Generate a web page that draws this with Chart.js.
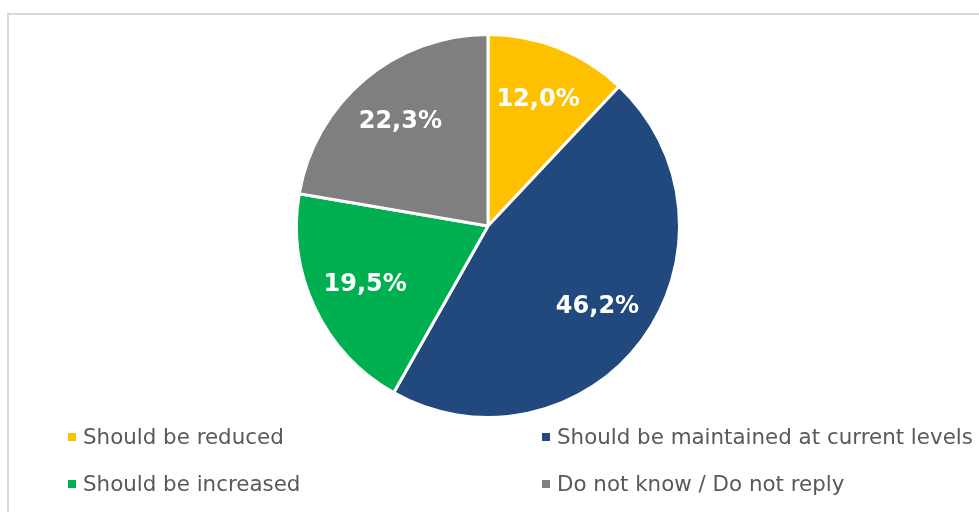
<!DOCTYPE html>
<html>
<head>
<meta charset="utf-8">
<script src="https://cdn.jsdelivr.net/npm/chart.js@4"></script>
<style>
  html, body { margin: 0; padding: 0; background: #fff; overflow: hidden; }
  #wrap { position: relative; width: 979px; height: 512px; }
  #frame { position: absolute; left: 7px; top: 13px; width: 1100px; height: 700px; border: 2px solid #d9d9d9; }
  #pie { position: absolute; left: 0; top: 0; }
</style>
</head>
<body>
<div id="wrap">
  <div id="frame"></div>
  <canvas id="pie" width="979" height="512"></canvas>
</div>
<script>
const labels = [
  "Should be reduced",
  "Should be maintained at current levels",
  "Should be increased",
  "Do not know / Do not reply"
];
const shares = [12.0, 46.2, 19.5, 22.3];
const colors = ["#ffc000", "#21497d", "#00b050", "#7f7f7f"];

// percent labels inside each slice
const sliceLabels = {
  id: "sliceLabels",
  afterDatasetsDraw(chart) {
    const ctx = chart.ctx;
    const meta = chart.getDatasetMeta(0);
    ctx.save();
    ctx.font = "bold 24px 'DejaVu Sans'";
    ctx.fillStyle = "#fff";
    ctx.textAlign = "center";
    ctx.textBaseline = "middle";
    meta.data.forEach((arc, i) => {
      const mid = (arc.startAngle + arc.endAngle) / 2;
      const r = arc.outerRadius * 0.71;
      const x = arc.x + Math.cos(mid) * r;
      const y = arc.y + Math.sin(mid) * r;
      ctx.fillText(shares[i].toFixed(1).replace(".", ",") + "%", x, y);
    });
    ctx.restore();
  }
};

// two-column legend under the pie
const gridLegend = {
  id: "gridLegend",
  afterDraw(chart) {
    const ctx = chart.ctx;
    const cols = [68, 542];
    const rows = [437, 484];
    ctx.save();
    ctx.font = "21.4px 'DejaVu Sans'";
    ctx.textBaseline = "middle";
    ctx.textAlign = "left";
    labels.forEach((name, i) => {
      const x = cols[i % 2];
      const y = rows[Math.floor(i / 2)];
      ctx.fillStyle = colors[i];
      ctx.fillRect(x, y - 4, 8, 8);
      ctx.fillStyle = "#595959";
      ctx.fillText(name, x + 15, y + 1);
    });
    ctx.restore();
  }
};

new Chart(document.getElementById("pie"), {
  type: "pie",
  data: {
    labels: labels,
    datasets: [{
      data: shares,
      backgroundColor: colors,
      borderColor: "#fff",
      borderWidth: 3
    }]
  },
  options: {
    responsive: false,
    animation: false,
    layout: { padding: { left: 295, right: 298, top: 33, bottom: 93 } },
    plugins: {
      legend: { display: false },
      tooltip: { enabled: false }
    }
  },
  plugins: [sliceLabels, gridLegend]
});
</script>
</body>
</html>
